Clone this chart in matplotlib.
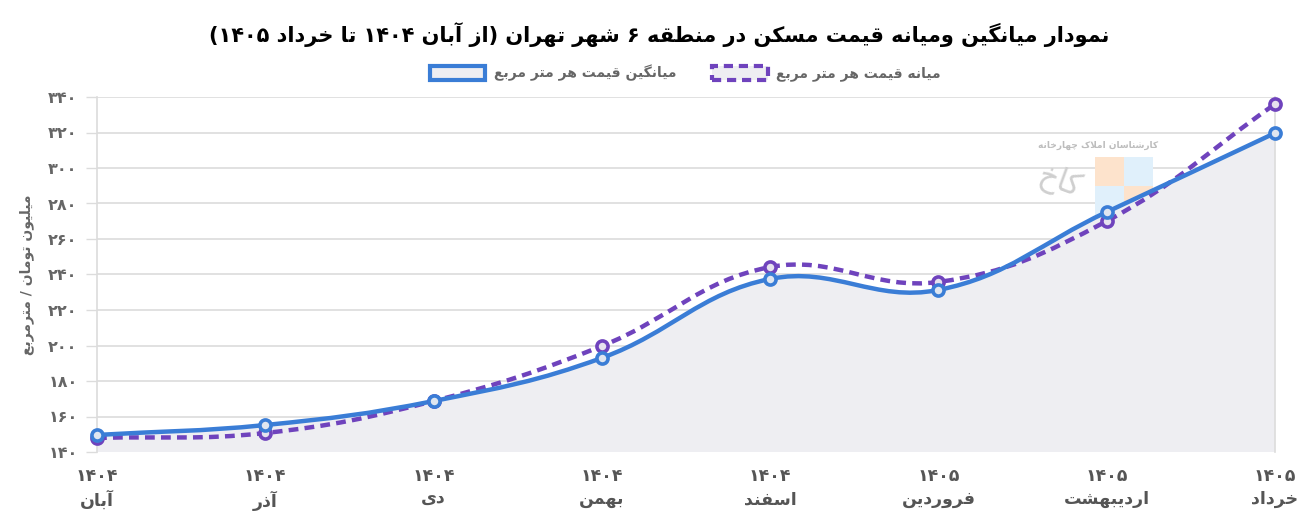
import re
import numpy as np
import matplotlib
matplotlib.use("Agg")
import matplotlib.pyplot as plt
from matplotlib.path import Path
from matplotlib.patches import PathPatch, Patch, Rectangle

# ---- data (millions of toman per square metre) ----
months = ["آبان", "آذر", "دی", "بهمن", "اسفند", "فروردین", "اردیبهشت", "خرداد"]
years = ["۱۴۰۴", "۱۴۰۴", "۱۴۰۴", "۱۴۰۴", "۱۴۰۴", "۱۴۰۵", "۱۴۰۵", "۱۴۰۵"]
mean_price = [149.6, 155.2, 168.7, 193.0, 237.5, 231.3, 275.2, 319.7]
median_price = [147.9, 150.7, 168.7, 199.7, 244.2, 235.8, 270.1, 336.0]
yticks = [140, 160, 180, 200, 220, 240, 260, 280, 300, 320, 340]

title = "نمودار میانگین ومیانه قیمت مسکن در منطقه ۶ شهر تهران (از آبان ۱۴۰۴ تا خرداد ۱۴۰۵)"
label_mean = "میانگین قیمت هر متر مربع"
label_median = "میانه قیمت هر متر مربع"
ylabel = "میلیون تومان / مترمربع"

# ---- tiny arabic/persian shaper (matplotlib has no text shaping) ----
FORMS = {
    'ا': (0xFE8D, 0xFE8E), 'آ': (0xFE81, 0xFE82), 'د': (0xFEA9, 0xFEAA),
    'ذ': (0xFEAB, 0xFEAC), 'ر': (0xFEAD, 0xFEAE), 'ز': (0xFEAF, 0xFEB0),
    'ژ': (0xFB8A, 0xFB8B), 'و': (0xFEED, 0xFEEE),
    'ب': (0xFE8F, 0xFE90, 0xFE91, 0xFE92), 'پ': (0xFB56, 0xFB57, 0xFB58, 0xFB59),
    'ت': (0xFE95, 0xFE96, 0xFE97, 0xFE98), 'ث': (0xFE99, 0xFE9A, 0xFE9B, 0xFE9C),
    'ج': (0xFE9D, 0xFE9E, 0xFE9F, 0xFEA0), 'چ': (0xFB7A, 0xFB7B, 0xFB7C, 0xFB7D),
    'ح': (0xFEA1, 0xFEA2, 0xFEA3, 0xFEA4), 'خ': (0xFEA5, 0xFEA6, 0xFEA7, 0xFEA8),
    'س': (0xFEB1, 0xFEB2, 0xFEB3, 0xFEB4), 'ش': (0xFEB5, 0xFEB6, 0xFEB7, 0xFEB8),
    'ص': (0xFEB9, 0xFEBA, 0xFEBB, 0xFEBC), 'ض': (0xFEBD, 0xFEBE, 0xFEBF, 0xFEC0),
    'ط': (0xFEC1, 0xFEC2, 0xFEC3, 0xFEC4), 'ظ': (0xFEC5, 0xFEC6, 0xFEC7, 0xFEC8),
    'ع': (0xFEC9, 0xFECA, 0xFECB, 0xFECC), 'غ': (0xFECD, 0xFECE, 0xFECF, 0xFED0),
    'ف': (0xFED1, 0xFED2, 0xFED3, 0xFED4), 'ق': (0xFED5, 0xFED6, 0xFED7, 0xFED8),
    'ک': (0xFB8E, 0xFB8F, 0xFB90, 0xFB91), 'گ': (0xFB92, 0xFB93, 0xFB94, 0xFB95),
    'ل': (0xFEDD, 0xFEDE, 0xFEDF, 0xFEE0), 'م': (0xFEE1, 0xFEE2, 0xFEE3, 0xFEE4),
    'ن': (0xFEE5, 0xFEE6, 0xFEE7, 0xFEE8), 'ه': (0xFEE9, 0xFEEA, 0xFEEB, 0xFEEC),
    'ی': (0xFBFC, 0xFBFD, 0xFBFE, 0xFBFF),
}
LAMALEF = {'ا': (0xFEFB, 0xFEFC), 'آ': (0xFEF5, 0xFEF6)}


def reshape(s):
    out = []
    i = 0
    n = len(s)
    while i < n:
        c = s[i]
        if c not in FORMS:
            out.append(c)
            i += 1
            continue
        prev_joins = i > 0 and s[i-1] in FORMS and len(FORMS[s[i-1]]) == 4
        if c == 'ل' and i + 1 < n and s[i+1] in LAMALEF:
            lig = LAMALEF[s[i+1]]
            out.append(chr(lig[1] if prev_joins else lig[0]))
            i += 2
            continue
        f = FORMS[c]
        next_joins = len(f) == 4 and i + 1 < n and s[i+1] in FORMS
        if prev_joins and next_joins:
            code = f[3]
        elif prev_joins:
            code = f[1]
        elif next_joins:
            code = f[2]
        else:
            code = f[0]
        out.append(chr(code))
        i += 1
    return ''.join(out)


def fa(s):
    lines = []
    for line in s.split("\n"):
        toks = re.findall(r'[0-9۰-۹]+|.', reshape(line))
        toks.reverse()
        mirror = {'(': ')', ')': '('}
        lines.append(''.join(mirror.get(t, t) for t in toks))
    return "\n".join(lines)


# ---- chart.js style bezier (tension 0.4) ----
XPX, YPX = 168.3, 1.775


def spline_path(xs, ys, t=0.4):
    px = np.array(xs, float) * XPX
    py = np.array(ys, float) * YPX
    n = len(px)
    cps = []
    for i in range(n):
        p0 = i - 1 if i > 0 else i
        p2 = i + 1 if i < n - 1 else i
        d01 = np.hypot(px[i] - px[p0], py[i] - py[p0])
        d12 = np.hypot(px[p2] - px[i], py[p2] - py[i])
        tot = d01 + d12
        s01 = d01 / tot if tot else 0
        s12 = d12 / tot if tot else 0
        fa_, fb_ = t * s01, t * s12
        dx, dy = px[p2] - px[p0], py[p2] - py[p0]
        cps.append(((px[i] - fa_ * dx, py[i] - fa_ * dy), (px[i] + fb_ * dx, py[i] + fb_ * dy)))
    verts = [(px[0], py[0])]
    codes = [Path.MOVETO]
    for i in range(n - 1):
        verts += [cps[i][1], cps[i+1][0], (px[i+1], py[i+1])]
        codes += [Path.CURVE4] * 3
    verts = [(a / XPX, min(b / YPX, 340)) for a, b in verts]
    return verts, codes


x = np.arange(len(months))
blue = "#3a7dd6"
purple = "#6f43bd"
fillc = "#eeeef2"
grid = "#dcdcdc"
txt = "#666666"

fig = plt.figure(figsize=(13.1, 5.24), dpi=100)
ax = fig.add_axes([97/1310, 1-452/524, 1178/1310, 355/524])
ax.set_xlim(0, 7)
ax.set_ylim(140, 340)

# fill under mean
mv, mc = spline_path(x, mean_price)
fill_verts = mv + [(7, 140), (0, 140), mv[0]]
fill_codes = mc + [Path.LINETO, Path.LINETO, Path.CLOSEPOLY]
ax.add_patch(PathPatch(Path(fill_verts, fill_codes), facecolor=fillc, edgecolor='none', zorder=1))

ax.add_patch(PathPatch(Path(mv, mc), facecolor='none', edgecolor=blue, lw=3.2, zorder=4,
                       capstyle='round', joinstyle='round'))
dv, dc = spline_path(x, median_price)
ax.add_patch(PathPatch(Path(dv, dc), facecolor='none', edgecolor=purple, lw=3.2, zorder=3,
                       linestyle=(0, (2.2, 1.4))))

ax.plot(x, mean_price, 'o', ms=8, mfc="#dfe6f0", mec=blue, mew=2.6, zorder=6, clip_on=False)
ax.plot(x, median_price, 'o', ms=8, mfc="#e6e2ee", mec=purple, mew=2.6, zorder=5, clip_on=False)

# axes styling
ax.set_yticks(yticks)
ax.set_yticklabels([fa(str(v).translate(str.maketrans("0123456789", "۰۱۲۳۴۵۶۷۸۹"))) for v in yticks],
                   fontsize=11.5, fontweight='bold', color=txt)
ax.set_xticks(x)
ax.set_xticklabels([fa(y) + "\n" + fa(m) for y, m in zip(years, months)],
                   fontsize=12.5, fontweight='bold', color="#555555", linespacing=1.35)
ax.tick_params(axis='y', length=8, color=grid, width=1, pad=6)
ax.tick_params(axis='x', length=0, pad=11)
ax.grid(axis='y', color=grid, lw=1.2, zorder=0)
for s in ['top', 'bottom']:
    ax.spines[s].set_visible(False)
for s in ['left', 'right']:
    ax.spines[s].set_color(grid)
    ax.spines[s].set_linewidth(1.2)
ax.set_axisbelow(True)

ax.set_ylabel(fa(ylabel), fontsize=10, fontweight='bold', color=txt, labelpad=10)

# watermark
ax.text((1098-97)/1178, (452-145)/355, fa("کارشناسان املاک چهارخانه"), transform=ax.transAxes,
        fontsize=6.5, fontweight='bold', color="#bdbdbd", ha='center', va='center', zorder=0.5)
sq = 29
for i, (cx, cy, col) in enumerate([(1095, 157, "#fde3cc"), (1124, 157, "#e0f0fb"),
                                   (1095, 186, "#e0f0fb"), (1124, 186, "#fde3cc")]):
    ax.add_patch(Rectangle(((cx-97)/1178, (452-cy-sq)/355), sq/1178, sq/355, transform=ax.transAxes,
                           facecolor=col, edgecolor='none', zorder=0.6))
ax.text((1060-97)/1178, (452-182)/355, fa("کاخ"), transform=ax.transAxes, fontsize=22,
        color="#cfcfcf", ha='center', va='center', rotation=-20, zorder=0.6)

# legend
h1 = Patch(facecolor=fillc, edgecolor=blue, lw=3)
h2 = Patch(facecolor=fillc, edgecolor=purple, lw=3, linestyle=(0, (2.2, 1.4)))
fig.legend([h1, h2], [fa(label_mean), fa(label_median)], loc='center', bbox_to_anchor=(0.523, 1-73/524),
           ncol=2, frameon=False, labelcolor=txt, handlelength=4.0, handleheight=1.2,
           columnspacing=2.6, handletextpad=0.6, prop={'weight': 'bold', 'size': 10})

fig.text(0.503, 1-35/524, fa(title), ha='center', va='center', fontsize=15, fontweight='bold', color='black')

fig.savefig("out.png", dpi=100)
